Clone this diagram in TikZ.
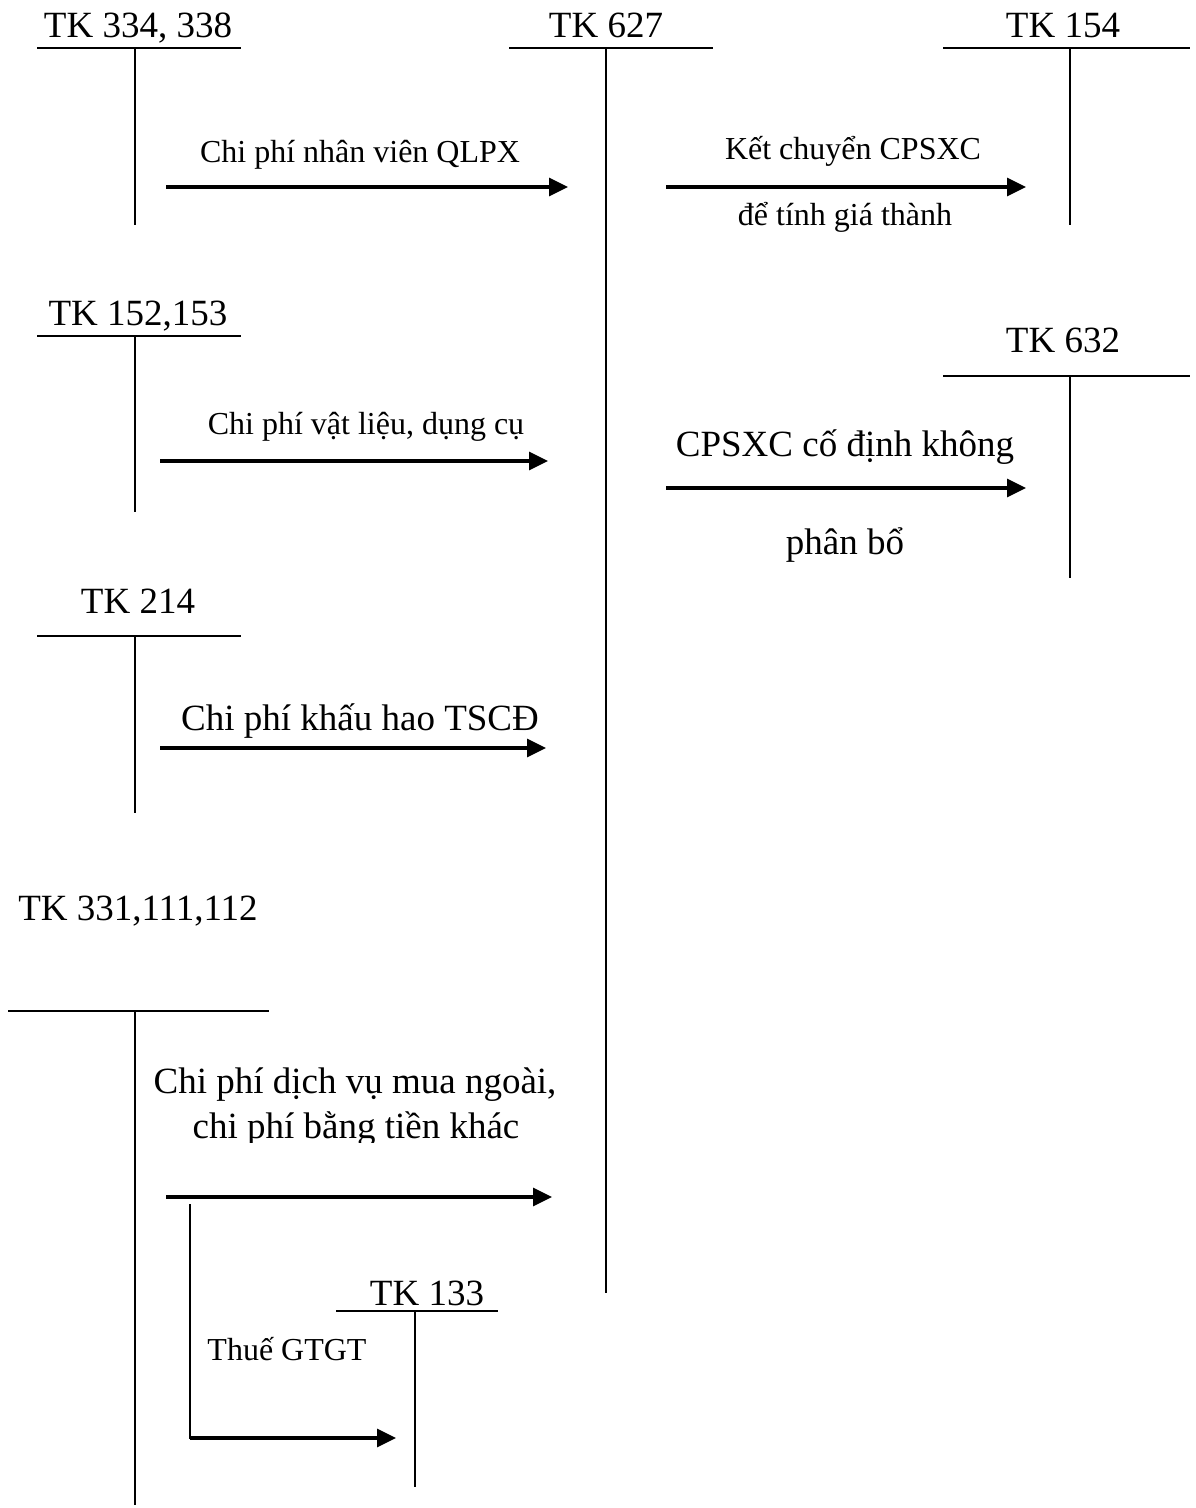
\documentclass[tikz,border=0pt]{standalone}
\usepackage{fontspec}
\setmainfont{Liberation Serif}
\usetikzlibrary{arrows.meta,positioning,calc}
\newcommand{\bigfont}{\fontsize{18.5}{22}\selectfont}
\newcommand{\smallfont}{\fontsize{16}{19}\selectfont}

\begin{document}
\begin{tikzpicture}[x=0.5pt,y=-0.5pt,
    acct/.style={font=\bigfont,anchor=base,inner sep=0pt},
    lbl/.style={font=\smallfont,anchor=base,inner sep=0pt},
    biglbl/.style={font=\bigfont,anchor=base,inner sep=0pt},
    tline/.style={line width=1.2pt},
    flow/.style={line width=1.6pt,-{Triangle[length=9.5pt,width=9pt]}}]
  \useasboundingbox (0,0) rectangle (1195,1508);
  % T accounts
  \node[acct] (tk334) at (138,38) {TK 334, 338};
  \draw[tline] (37,48) -- (241,48); \draw[tline] (135,48) -- (135,225);
  \node[acct] (tk627) at (606,38) {TK 627};
  \draw[tline] (509,48) -- (713,48); \draw[tline] (606,48) -- (606,1293);
  \node[acct] (tk154) at (1063,38) {TK 154};
  \draw[tline] (943,48) -- (1190,48); \draw[tline] (1070,48) -- (1070,225);
  \node[acct] (tk152) at (138,326) {TK 152,153};
  \draw[tline] (37,336) -- (241,336); \draw[tline] (135,336) -- (135,512);
  \node[acct] (tk632) at (1063,352) {TK 632};
  \draw[tline] (943,376) -- (1190,376); \draw[tline] (1070,376) -- (1070,578);
  \node[acct] (tk214) at (138,613) {TK 214};
  \draw[tline] (37,636) -- (241,636); \draw[tline] (135,636) -- (135,813);
  \node[acct] (tk331) at (138,920) {TK 331,111,112};
  \draw[tline] (8,1011) -- (269,1011); \draw[tline] (135,1011) -- (135,1505);
  \node[acct] (tk133) at (427,1305) {TK 133};
  \draw[tline] (336,1311) -- (498,1311); \draw[tline] (415,1311) -- (415,1487);
  % flows into TK 627
  \coordinate (a1) at (166,187); \coordinate (b1) at (568,187);
  \draw[flow] (a1) -- (b1);
  \node[lbl] (nv) at (360,163) {Chi phí nhân viên QLPX};
  \coordinate (a2) at (160,461); \coordinate (b2) at (548,461);
  \draw[flow] (a2) -- (b2);
  \node[lbl] (vl) at (366,434) {Chi phí vật liệu, dụng cụ};
  \coordinate (a3) at (160,748); \coordinate (b3) at (546,748);
  \draw[flow] (a3) -- (b3);
  \node[biglbl] (kh) at (360,730) {Chi phí khấu hao TSCĐ};
  \coordinate (a4) at (166,1197); \coordinate (b4) at (552,1197);
  \draw[flow] (a4) -- (b4);
  \node[biglbl] (dv1) at (355,1093) {Chi phí dịch vụ mua ngoài,};
  \begin{scope}
    \clip (100,1100) rectangle (700,1142);
    \node[biglbl] (dv2) at (356,1138) {chi phí bằng tiền khác};
  \end{scope}
  % VAT branch
  \coordinate (v0) at (190,1205); \coordinate (v1) at (190,1438); \coordinate (v2) at (396,1438);
  \draw[tline,line cap=rect] (v0) -- (v1);
  \draw[flow] (v1) -- (v2);
  \node[lbl] (vat) at (287,1360) {Thuế GTGT};
  % flows out of TK 627
  \coordinate (a5) at (666,187); \coordinate (b5) at (1026,187);
  \draw[flow] (a5) -- (b5);
  \node[lbl] (kc1) at (853,160) {Kết chuyển CPSXC};
  \node[lbl] (kc2) at (845,226) {để tính giá thành};
  \coordinate (a6) at (666,488); \coordinate (b6) at (1026,488);
  \draw[flow] (a6) -- (b6);
  \node[biglbl] (cd1) at (845,456) {CPSXC cố định không};
  \node[biglbl] (cd2) at (845,554) {phân bổ};
\end{tikzpicture}
\end{document}
